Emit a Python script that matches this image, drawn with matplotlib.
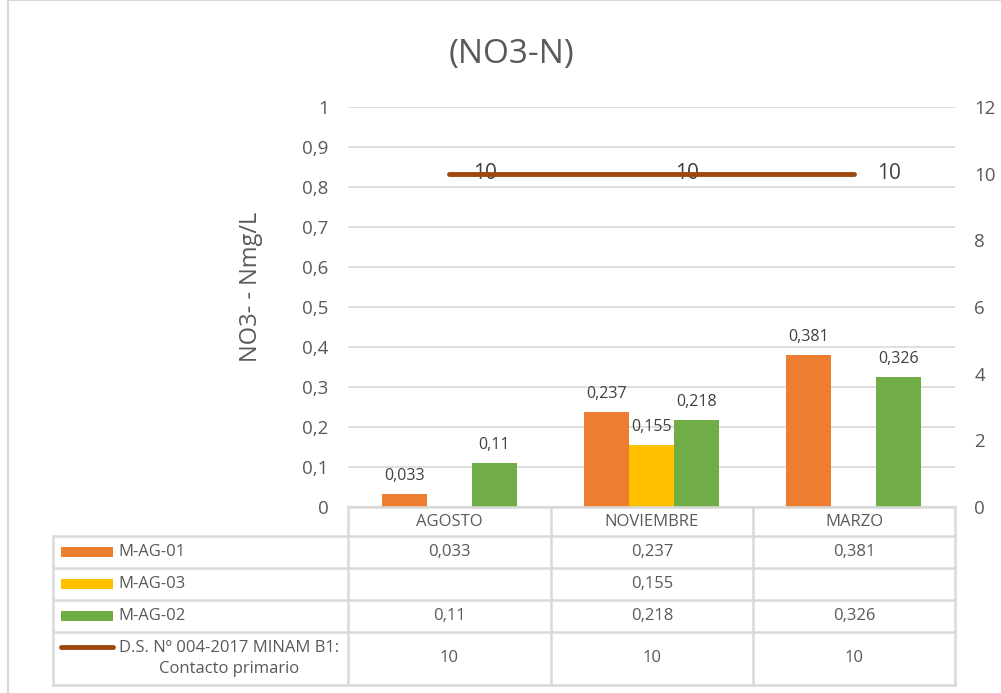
import numpy as np
import matplotlib
matplotlib.use("Agg")
from matplotlib import pyplot as plt
from matplotlib.lines import Line2D
from matplotlib.patches import Rectangle

# data
categories = ["AGOSTO", "NOVIEMBRE", "MARZO"]
m_ag_01 = [0.033, 0.237, 0.381]
m_ag_03 = [np.nan, 0.155, np.nan]
m_ag_02 = [0.11, 0.218, 0.326]
ds_limit = [10, 10, 10]
series_names = ["M-AG-01", "M-AG-03", "M-AG-02"]
limit_name = "D.S. Nº 004-2017 MINAM B1:\nContacto primario"
left_ticks = [0, 0.1, 0.2, 0.3, 0.4, 0.5, 0.6, 0.7, 0.8, 0.9, 1]
right_ticks = [0, 2, 4, 6, 8, 10, 12]

colors = ["#ED7D31", "#FFC000", "#70AD47"]
line_color = "#9E480E"
text_color = "#595959"
grid_color = "#D9D9D9"

plt.rcParams['font.family'] = ['Open Sans', 'DejaVu Sans']

W, H = 1001, 693
fig = plt.figure(figsize=(W / 100, H / 100), dpi=100)


def fx(x):
    return x / W


def fy(y):
    return 1 - y / H


def comma(v):
    s = f"{v:g}"
    return s.replace(".", ",")


# plot area in pixels (left, top, right, bottom)
L, T, R, B = 348, 107, 955, 507
ax = fig.add_axes([fx(L), fy(B), fx(R - L), (B - T) / H])
ax2 = ax.twinx()

x = np.arange(len(categories))
bw = 0.222
all_series = [m_ag_01, m_ag_03, m_ag_02]
for i, (vals, c) in enumerate(zip(all_series, colors)):
    pos = x + (i - 1) * bw
    ax.bar(pos, vals, width=bw, color=c, zorder=3)
    for px_, v in zip(pos, vals):
        if not np.isnan(v):
            ax.annotate(comma(v), (px_, v), xytext=(0, 7), textcoords="offset points",
                        ha="center", va="bottom", fontsize=11.5, color="#404040")

ax.set_xlim(-0.5, len(categories) - 0.5)
ax.set_ylim(0, 1)
ax.set_yticks(left_ticks)
ax.set_yticklabels([comma(t) for t in left_ticks])
ax.set_xticks([])
ax.grid(axis="y", color=grid_color, linewidth=1.2, zorder=0)
ax.set_axisbelow(True)
ax.tick_params(axis="y", length=0, pad=14, labelsize=13.5, labelcolor=text_color)
for s in ax.spines.values():
    s.set_visible(False)
ax.spines["bottom"].set_visible(True)
ax.spines["bottom"].set_color(grid_color)
ax.spines["bottom"].set_linewidth(1.5)

ax2.plot(x, ds_limit, color=line_color, linewidth=3.5, solid_capstyle="round", zorder=4)
for xi, v in zip(x, ds_limit):
    ax2.annotate(str(v), (xi, v), xytext=(17, 0), textcoords="offset points",
                 ha="left", va="center", fontsize=15, color="#404040")
ax2.set_ylim(0, 12)
ax2.set_yticks(right_ticks)
ax2.tick_params(axis="y", length=0, pad=14, labelsize=13.5, labelcolor=text_color)
for s in ax2.spines.values():
    s.set_visible(False)

ax.set_ylabel("NO3- - Nmg/L", fontsize=17, color=text_color)
ax.yaxis.set_label_coords((263 - L) / (R - L), 0.55)

fig.text(fx(511), fy(54), "(NO3-N)", fontsize=24, color=text_color, ha="center", va="center")

# outer chart frame
fig.add_artist(Rectangle((fx(8), fy(1000)), 2, 1000 / H, transform=fig.transFigure,
                         fill=False, edgecolor=grid_color, linewidth=1.5))

# data table under the plot
col_edges = [53, 348, 551, 753, 955]
row_edges = [507, 536, 568, 600, 632, 685]
tc = "#D9D9D9"
fs = 12


def hline(y, x0, x1):
    fig.add_artist(Line2D([fx(x0), fx(x1)], [fy(y), fy(y)], color=tc, linewidth=1.8))


def vline(xp, y0, y1):
    fig.add_artist(Line2D([fx(xp), fx(xp)], [fy(y0), fy(y1)], color=tc, linewidth=1.8))


hline(row_edges[0], col_edges[1], col_edges[-1])
for y in row_edges[1:]:
    hline(y, col_edges[0], col_edges[-1])
vline(col_edges[0], row_edges[1], row_edges[-1])
for xp in col_edges[1:]:
    vline(xp, row_edges[0], row_edges[-1])

centers = [(col_edges[j + 1] + col_edges[j + 2]) / 2 for j in range(len(categories))]
for cx, cat in zip(centers, categories):
    fig.text(fx(cx), fy((row_edges[0] + row_edges[1]) / 2), cat, fontsize=fs,
             color=text_color, ha="center", va="center")

for r, (name, vals, c) in enumerate(zip(series_names, all_series, colors)):
    yc = (row_edges[r + 1] + row_edges[r + 2]) / 2
    fig.add_artist(Rectangle((fx(61), fy(yc + 5)), fx(52), 10 / H,
                             transform=fig.transFigure, color=c, linewidth=0))
    fig.text(fx(118), fy(yc), name, fontsize=fs, color=text_color, ha="left", va="center")
    for cx, v in zip(centers, vals):
        if not np.isnan(v):
            fig.text(fx(cx), fy(yc), comma(v), fontsize=fs, color=text_color,
                     ha="center", va="center")

yc = (row_edges[4] + row_edges[5]) / 2
fig.add_artist(Line2D([fx(61), fx(113)], [fy(647), fy(647)], color=line_color,
                      linewidth=3.5, solid_capstyle="round"))
fig.text(fx(229), fy(yc), limit_name, fontsize=fs, color=text_color,
         ha="center", va="center", multialignment="center", linespacing=1.35)
for cx, v in zip(centers, ds_limit):
    fig.text(fx(cx), fy(yc), str(v), fontsize=fs, color=text_color, ha="center", va="center")

fig.savefig("out.png", dpi=100)
